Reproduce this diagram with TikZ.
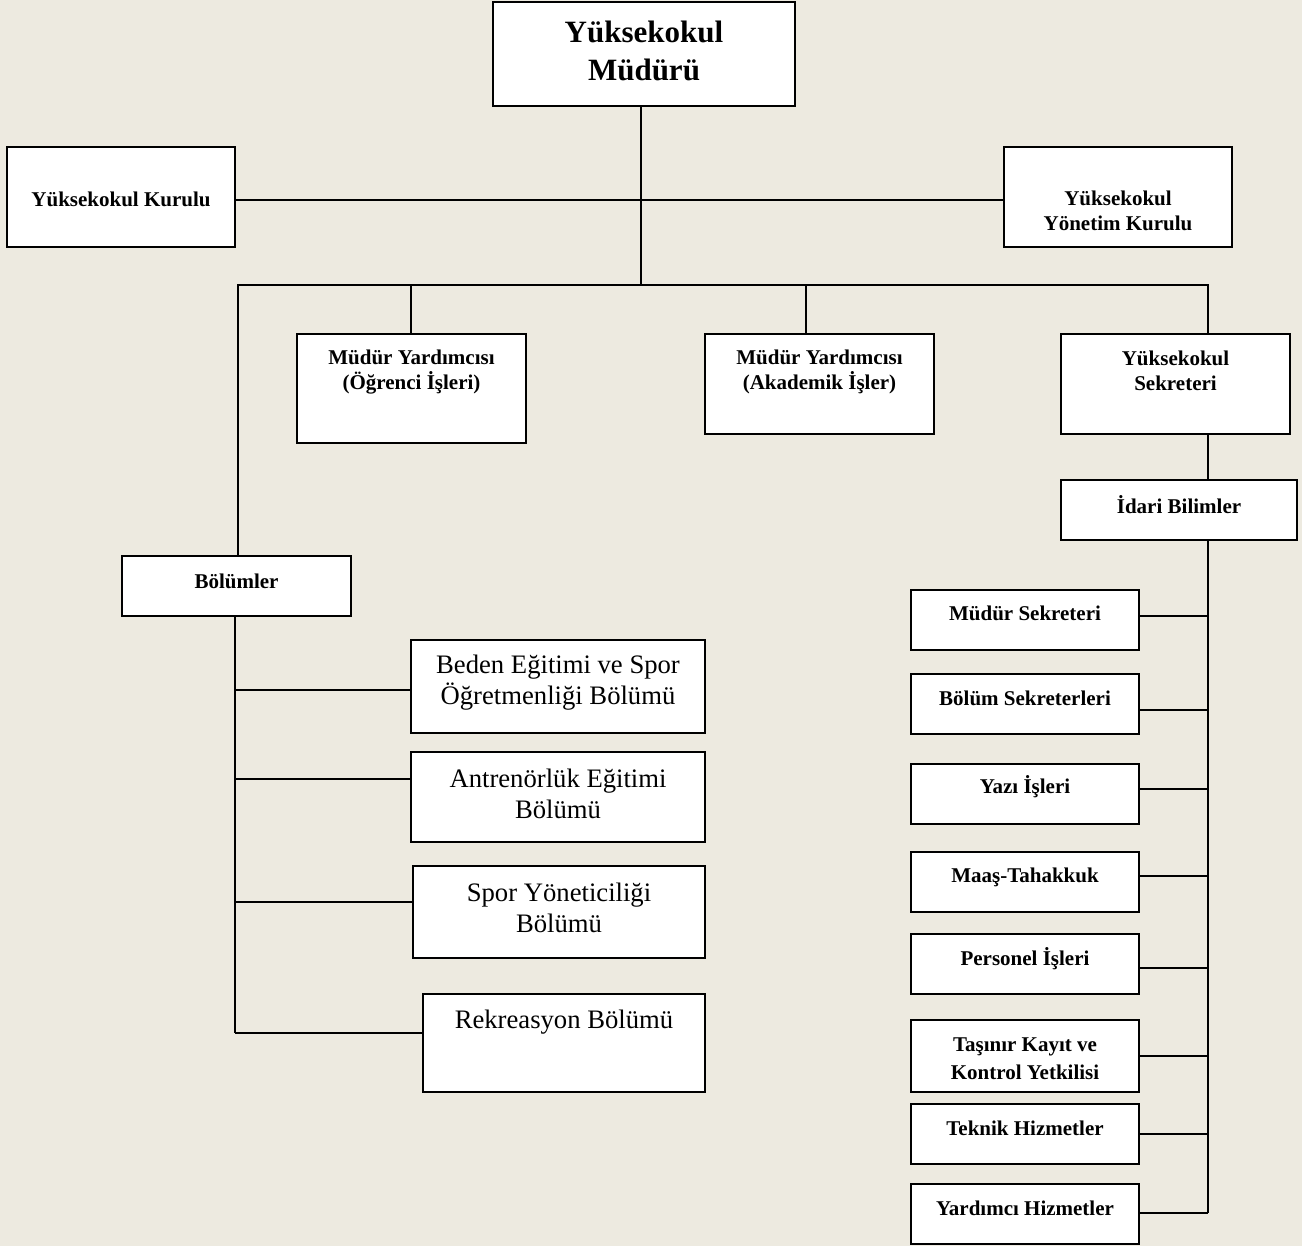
\documentclass[tikz,border=0pt]{standalone}
\usepackage{fontspec}
\setmainfont{Liberation Serif}
\usetikzlibrary{calc}
\definecolor{paper}{RGB}{237,234,224}
\tikzset{box/.style={draw, line width=1.6pt, fill=white, inner sep=0pt},
         head/.style={font=\bfseries\fontsize{23.25}{28.5}\selectfont, align=center, inner sep=0pt},
         title/.style={font=\bfseries\fontsize{15.75}{18.75}\selectfont, align=center, inner sep=0pt},
         dept/.style={font=\fontsize{20}{23.25}\selectfont, align=center, inner sep=0pt},
         link/.style={line width=1.3pt},
        }

\begin{document}
\begin{tikzpicture}[x=0.75pt, y=-0.75pt]
        \fill[paper] (0,0) rectangle (1302,1246);
        \useasboundingbox (0,0) rectangle (1302,1246);

        \node[box, minimum width=226.5pt, minimum height=78pt](mudur)at(644,54){};
        \node[head](mudurT)at(644,51){Yüksekokul\\Müdürü};
        \node[box, minimum width=171pt, minimum height=75pt](kurul)at(121,197){};
        \node[title](kurulT)at(121,199){Yüksekokul Kurulu};
        \node[box, minimum width=171pt, minimum height=75pt](yonetim)at(1118,197){};
        \node[title](yonetimT)at(1118,210.5){Yüksekokul\\Yönetim Kurulu};

        \node[box, minimum width=171.75pt, minimum height=81.75pt](ogrenci)at(411.5,388.5){};
        \node[title](ogrenciT)at(411.5,372){Müdür Yardımcısı\\(Öğrenci İşleri)};
        \node[box, minimum width=171.75pt, minimum height=75pt](akademik)at(819.5,384){};
        \node[title](akademikT)at(819.5,372){Müdür Yardımcısı\\(Akademik İşler)};
        \node[box, minimum width=171.75pt, minimum height=75pt](sekreter)at(1175.5,384){};
        \node[title](sekreterT)at(1175.5,371){Yüksekokul\\Sekreteri};
        \node[box, minimum width=177pt, minimum height=45pt](idari)at(1179,510){};
        \node[title](idariT)at(1179,505){İdari Bilimler};
        \node[box, minimum width=171.75pt, minimum height=45pt](bolum)at(236.5,586){};
        \node[title](bolumT)at(236.5,581){Bölümler};

        \node[box, minimum width=171pt, minimum height=45pt](msek)at(1025,620){};
        \node[title](msekT)at(1025,613){Müdür Sekreteri};
        \node[box, minimum width=171pt, minimum height=45pt](bsek)at(1025,704){};
        \node[title](bsekT)at(1025,698){Bölüm Sekreterleri};
        \node[box, minimum width=171pt, minimum height=45pt](yazi)at(1025,794){};
        \node[title](yaziT)at(1025,787){Yazı İşleri};
        \node[box, minimum width=171pt, minimum height=45pt](maas)at(1025,882){};
        \node[title](maasT)at(1025,877){Maaş-Tahakkuk};
        \node[box, minimum width=171pt, minimum height=45pt](pers)at(1025,964){};
        \node[title](persT)at(1025,959){Personel İşleri};
        \node[box, minimum width=171pt, minimum height=54pt](tasinir)at(1025,1056){};
        \node[title, font=\bfseries\fontsize{15.75}{21}\selectfont](tasinirT)at(1025,1059){Taşınır Kayıt ve\\Kontrol Yetkilisi};
        \node[box, minimum width=171pt, minimum height=45pt](teknik)at(1025,1134){};
        \node[title](teknikT)at(1025,1128){Teknik Hizmetler};
        \node[box, minimum width=171pt, minimum height=45pt](yardimci)at(1025,1214){};
        \node[title](yardimciT)at(1025,1208){Yardımcı Hizmetler};

        \node[box, minimum width=220.5pt, minimum height=69.75pt](beden)at(558,686.5){};
        \node[dept](bedenT)at(558,683){Beden Eğitimi ve Spor\\Öğretmenliği Bölümü};
        \node[box, minimum width=220.5pt, minimum height=67.5pt](antren)at(558,797){};
        \node[dept](antrenT)at(558,794){Antrenörlük Eğitimi\\Bölümü};
        \node[box, minimum width=219pt, minimum height=69pt](spor)at(559,912){};
        \node[dept](sporT)at(559,908){Spor Yöneticiliği\\Bölümü};
        \node[box, minimum width=211.5pt, minimum height=73.5pt](rekre)at(564,1043){};
        \node[dept](rekreT)at(564,1022){Rekreasyon Bölümü};

        % bus and trunks
        \coordinate(hub)at(641,285);
        \coordinate(busL)at(238,285);
        \coordinate(busR)at(1208,285);
        \coordinate(ogbus)at(411,285);
        \coordinate(akbus)at(806,285);
        \coordinate(rtrunk)at(1208,1213);
        \coordinate(ltrunk)at(235,1033);
        \draw[link](hub |- mudur.south)--(hub);
        \draw[link]($(kurul.east)+(0,3)$)coordinate(kj)--(kj -| yonetim.west);
        \draw[link](busL |- bolum.north)--(busL)--(busR)--(busR |- sekreter.north);
        \draw[link](ogbus)--(ogbus |- ogrenci.north);
        \draw[link](akbus)--(akbus |- akademik.north);
        \draw[link](busR |- sekreter.south)--(busR |- idari.north);
        \draw[link](busR |- idari.south)--(rtrunk);
        \draw[link](ltrunk |- bolum.south)--(ltrunk);

        \draw[link]($(msek.east)+(0,-4)$)coordinate(r1)--(r1 -| rtrunk);
        \draw[link]($(bsek.east)+(0,6)$)coordinate(r2)--(r2 -| rtrunk);
        \draw[link]($(yazi.east)+(0,-5)$)coordinate(r3)--(r3 -| rtrunk);
        \draw[link]($(maas.east)+(0,-6)$)coordinate(r4)--(r4 -| rtrunk);
        \draw[link]($(pers.east)+(0,4)$)coordinate(r5)--(r5 -| rtrunk);
        \draw[link](tasinir.east)--(tasinir.east -| rtrunk);
        \draw[link](teknik.east)--(teknik.east -| rtrunk);
        \draw[link](yardimci.east |- rtrunk)--(rtrunk);

        \draw[link]($(beden.west)+(0,3.5)$)coordinate(l1)--(l1 -| ltrunk);
        \draw[link]($(antren.west)+(0,-18)$)coordinate(l2)--(l2 -| ltrunk);
        \draw[link]($(spor.west)+(0,-10)$)coordinate(l3)--(l3 -| ltrunk);
        \draw[link](rekre.west |- ltrunk)--(ltrunk);
\end{tikzpicture}
\end{document}
